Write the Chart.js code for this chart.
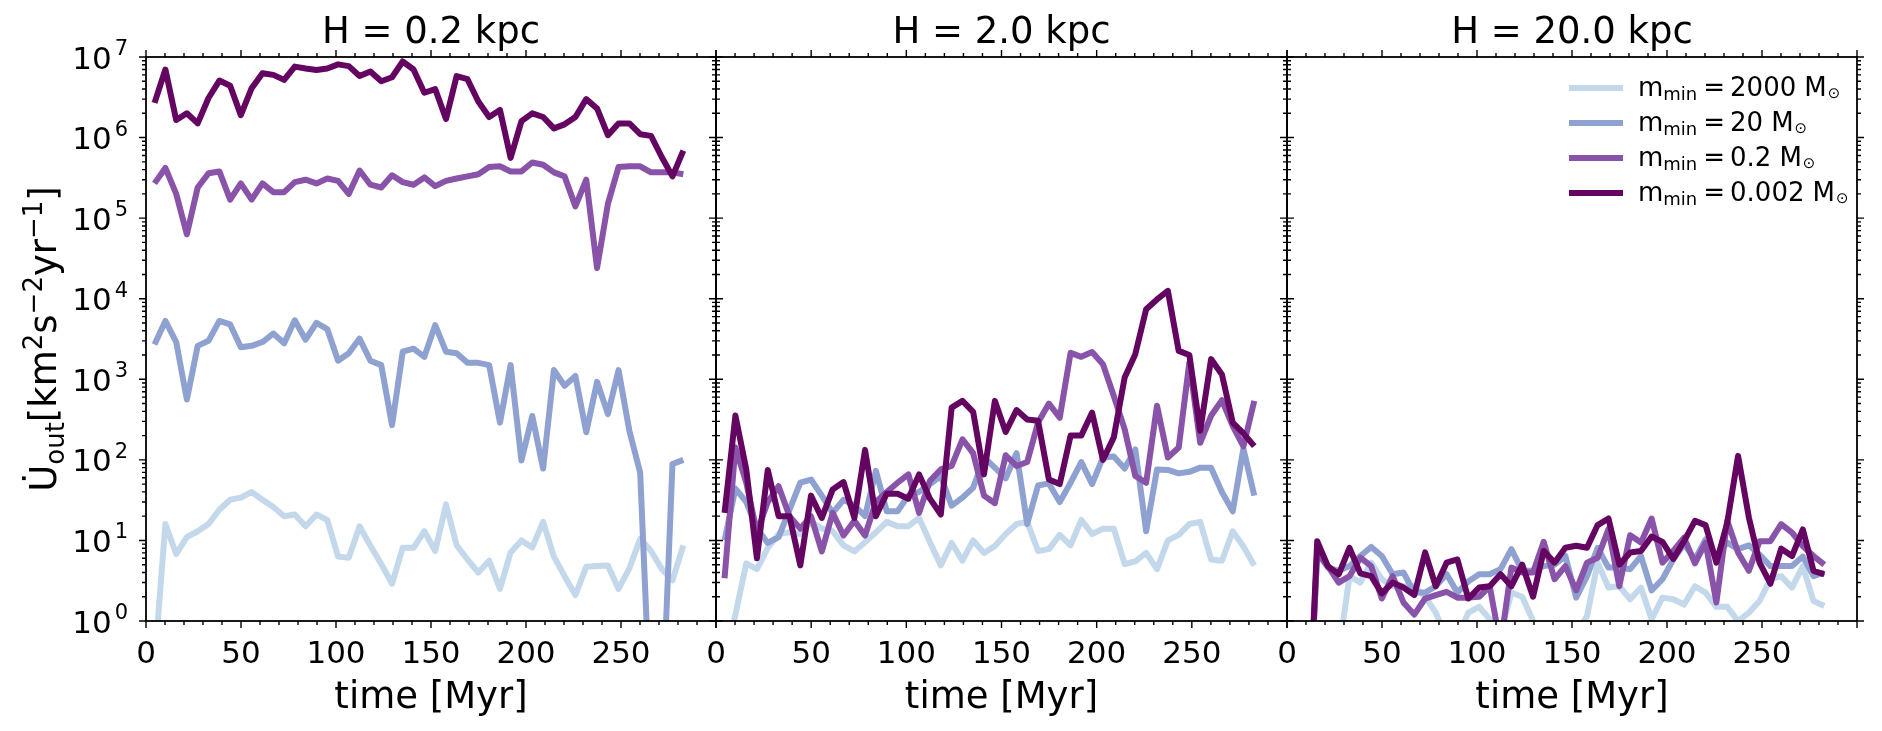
<!DOCTYPE html>
<html>
<head>
<meta charset="utf-8">
<script src="https://cdn.jsdelivr.net/npm/chart.js@4.4.1/dist/chart.umd.min.js"></script>
<style>
  html, body { margin: 0; padding: 0; background: #fff; }
  #wrap { position: relative; width: 1882px; height: 731px; }
  #wrap canvas { position: absolute; left: 0; top: 0; }
</style>
</head>
<body>
<div id="wrap">
  <canvas id="p0" width="1882" height="731"></canvas>
  <canvas id="p1" width="1882" height="731"></canvas>
  <canvas id="p2" width="1882" height="731"></canvas>
</div>
<script>
// snapshot times [Myr]
const times = [4.5, 10.2, 15.9, 21.5, 27.2, 32.9, 38.6, 44.3, 49.9, 55.6,
  61.3, 67.0, 72.7, 78.3, 84.0, 89.7, 95.4, 101.1, 106.7, 112.4,
  118.1, 123.8, 129.5, 135.1, 140.8, 146.5, 152.2, 157.9, 163.5, 169.2,
  174.9, 180.6, 186.3, 191.9, 197.6, 203.3, 209.0, 214.7, 220.3, 226.0,
  231.7, 237.4, 243.1, 248.7, 254.4, 260.1, 265.8, 271.5, 277.1, 282.8];

// H = 0.2 kpc
const h02_m2000 = [0.3, 16, 6.8, 11, 13, 16, 24, 32, 34, 40, 32, 26, 20, 21, 15, 21, 18, 6.3, 6.1, 15,
  8.6, 5.1, 2.9, 8.1, 8.1, 13, 7.4, 28, 8.7, 5.8, 4.0, 5.6, 2.5, 7.1, 10, 8.2, 17, 6.3, 3.6, 2.1,
  4.7, 4.8, 4.9, 2.5, 4.5, 10.5, 7.4, 4.4, 3.2, 8.7];
const h02_m20 = [2.7e3, 5.3e3, 2.9e3, 5.6e2, 2.6e3, 3.0e3, 5.3e3, 4.8e3, 2.5e3, 2.6e3, 2.9e3, 3.7e3, 2.8e3, 5.4e3, 3.1e3, 5.0e3, 4.2e3, 1.7e3, 2.1e3, 3.2e3,
  1.7e3, 1.5e3, 2.7e2, 2.2e3, 2.4e3, 1.9e3, 4.7e3, 2.2e3, 2.1e3, 1.6e3, 1.6e3, 1.5e3, 2.9e2, 1.5e3, 98, 3.5e2, 78, 1.3e3, 8.3e2, 1.1e3,
  2.2e2, 9.3e2, 3.7e2, 1.3e3, 2.3e2, 69, 0.05, 0.05, 89, 100];
const h02_m02 = [2.7e5, 4.2e5, 2.0e5, 6.3e4, 2.4e5, 3.6e5, 3.8e5, 1.7e5, 2.7e5, 1.7e5, 2.7e5, 2.1e5, 2.1e5, 2.8e5, 3.0e5, 2.7e5, 3.1e5, 2.9e5, 2.0e5, 3.9e5,
  2.6e5, 2.4e5, 3.4e5, 2.8e5, 2.6e5, 3.2e5, 2.5e5, 2.9e5, 3.1e5, 3.3e5, 3.5e5, 4.3e5, 4.4e5, 3.8e5, 3.8e5, 4.9e5, 4.6e5, 3.7e5, 3.3e5, 1.4e5,
  3.0e5, 2.4e4, 1.5e5, 4.3e5, 4.4e5, 4.4e5, 3.7e5, 3.7e5, 3.7e5, 3.5e5];
const h02_m0002 = [2.7e6, 7.0e6, 1.65e6, 2.0e6, 1.5e6, 3.1e6, 5.1e6, 4.4e6, 1.9e6, 4.1e6, 6.3e6, 6.0e6, 5.2e6, 7.6e6, 7.2e6, 6.9e6, 7.2e6, 8.1e6, 7.7e6, 5.8e6,
  6.6e6, 5.0e6, 5.6e6, 8.8e6, 7.0e6, 3.6e6, 4.0e6, 1.7e6, 5.8e6, 5.3e6, 2.8e6, 1.8e6, 2.2e6, 5.6e5, 1.6e6, 2.0e6, 1.8e6, 1.3e6, 1.46e6, 1.8e6,
  3.0e6, 2.3e6, 1.07e6, 1.5e6, 1.5e6, 1.1e6, 1.05e6, 5.7e5, 3.3e5, 6.9e5];

// H = 2.0 kpc
const h2_m2000 = [0.3, 1.2, 5.2, 4.4, 8.1, 12, 12.6, 12, 17, 14, 13, 8.7, 7.3, 9.5, 12.6, 17, 15, 15, 19, 9.5,
  4.9, 9.3, 5.6, 10, 7.0, 8.5, 12, 16, 17, 7.4, 7.8, 11.7, 8.7, 18, 12, 14, 14, 5.1, 5.5, 7.0,
  4.4, 10, 11.7, 16, 17, 5.8, 5.6, 13, 8.4, 4.9];
const h2_m20 = [10, 44, 30, 14, 9.3, 11, 24, 52, 57, 36, 22, 32, 27, 20, 73, 23, 23, 36, 40, 50,
  63, 27, 34, 45, 107, 80, 59, 121, 16, 48, 51, 30, 52, 94, 50, 107, 110, 78, 135, 13,
  76, 75, 68, 71, 80, 80, 40, 23, 138, 36];
const h2_m02 = [3.4, 142, 52, 12.6, 30, 47, 20, 14, 20, 7.3, 22, 11.5, 17.6, 11.5, 30, 40, 52, 66, 22, 55,
  76, 84, 180, 121, 36, 29, 114, 84, 94, 290, 500, 333, 2130, 1900, 2180, 1540, 620, 240, 63, 52,
  470, 107, 142, 1620, 163, 352, 552, 262, 147, 540];
const h2_m0002 = [22, 355, 76, 6.0, 75, 20, 20, 4.9, 36, 19, 43, 53, 19, 133, 20, 38, 38, 33, 66, 33,
  21, 445, 540, 395, 66, 540, 222, 415, 317, 305, 57, 50, 200, 200, 386, 100, 190, 1050, 2050, 7400,
  9800, 12500, 2250, 2000, 230, 1780, 1150, 290, 213, 148];

// H = 20.0 kpc
const h20_m2000 = [0.01, 0.01, 0.01, 0.2, 0.4, 3.6, 3.0, 5.3, 3.3, 2.7, 2.7, 2.7, 2.0, 1.27, 0.6, 0.6, 1.27, 1.5, 1.05, 0.7,
  2.25, 2.0, 1.0, 0.6, 0.5, 0.5, 0.7, 1.15, 5.3, 2.6, 2.7, 1.86, 2.6, 1.05, 1.95, 1.86, 1.6, 2.7, 2.25, 1.5,
  1.5, 1.0, 1.27, 1.77, 3.3, 3.6, 2.6, 4.8, 1.77, 1.54];
const h20_m20 = [0.01, 0.01, 7.1, 4.6, 4.2, 4.8, 6.4, 8.3, 6.4, 3.8, 4.0, 2.25, 2.25, 2.7, 3.8, 2.25, 3.1, 3.8, 3.8, 4.4,
  7.8, 4.2, 4.2, 4.8, 5.0, 6.4, 1.95, 3.6, 8.1, 4.6, 4.6, 4.4, 6.4, 2.4, 3.3, 5.8, 9.0, 5.8, 10.3, 6.4,
  9.4, 7.8, 8.7, 6.7, 4.8, 4.8, 4.8, 6.3, 3.6, 4.0];
const h20_m02 = [0.01, 0.01, 7.1, 4.8, 3.0, 3.6, 6.1, 4.8, 1.9, 3.6, 1.7, 1.2, 1.9, 2.1, 2.3, 1.95, 1.95, 2.0, 2.7, 0.5,
  4.6, 4.0, 4.0, 9.6, 3.3, 4.8, 2.4, 5.3, 6.1, 13.8, 2.7, 11.6, 9.4, 18.7, 5.3, 7.4, 10.8, 5.2, 9.4, 1.7,
  17.5, 7.1, 4.2, 9.8, 9.8, 15.9, 12.5, 8.5, 6.4, 5.0];
const h20_m0002 = [0.01, 0.01, 9.8, 4.8, 3.8, 8.1, 3.9, 3.6, 2.2, 3.0, 2.6, 2.1, 7.1, 2.7, 5.3, 5.8, 1.9, 2.6, 2.7, 3.8,
  2.7, 5.0, 2.0, 7.4, 5.3, 8.1, 8.6, 8.1, 15.5, 18.7, 5.0, 7.1, 7.4, 11.2, 9.6, 5.9, 9.8, 17.5, 15.5, 5.3,
  16.6, 112, 19.2, 5.3, 2.9, 7.9, 6.4, 13.7, 4.2, 3.8];

const massLabels = ["2000", "20", "0.2", "0.002"];
const panelTitles = ["H = 0.2 kpc", "H = 2.0 kpc", "H = 20.0 kpc"];
const xTickValues = [0, 50, 100, 150, 200, 250];
const yTickExponents = [0, 1, 2, 3, 4, 5, 6, 7];

const panelData = [
  [h02_m2000, h02_m20, h02_m02, h02_m0002],
  [h2_m2000, h2_m20, h2_m02, h2_m0002],
  [h20_m2000, h20_m20, h20_m02, h20_m0002]
];

// layout / style
const W = 1882, H = 731;
const PLOT_TOP = 57, PLOT_BOTTOM = 621;
const panelEdges = [[146, 716], [716, 1287], [1287, 1857]];
const colors = ["#c4d8eb", "#8ea1d0", "#8953a9", "#640562"];
const FONT = '"DejaVu Sans", sans-serif';

// draw a run of text pieces (for sub/superscripts); returns total width
function drawPieces(ctx, pieces, x, y, measureOnly) {
  let cx = x;
  for (const p of pieces) {
    ctx.font = p.size + "px " + FONT;
    cx += p.gap || 0;
    if (!measureOnly) ctx.fillText(p.t, cx, y + (p.dy || 0));
    cx += ctx.measureText(p.t).width;
  }
  return cx - x;
}

const decor = {
  id: "decor",
  afterDraw(chart) {
    const idx = chart.options.plugins.decor.panel;
    const ctx = chart.ctx;
    const a = chart.chartArea;
    const xs = chart.scales.x, ys = chart.scales.y;
    ctx.save();
    ctx.strokeStyle = "#000";
    ctx.fillStyle = "#000";

    // frame
    ctx.lineWidth = 1.8;
    ctx.strokeRect(a.left, a.top, a.right - a.left, a.bottom - a.top);

    // ticks, all pointing out of the axes
    ctx.lineWidth = 1.4;
    ctx.beginPath();
    for (let v = 0; v <= 300; v += 10) {
      const px = xs.getPixelForValue(v);
      const len = v % 50 === 0 ? 7 : 4;
      ctx.moveTo(px, a.bottom); ctx.lineTo(px, a.bottom + len);
      ctx.moveTo(px, a.top); ctx.lineTo(px, a.top - len);
    }
    for (let d = 0; d <= 7; d++) {
      for (let k = 1; k <= 9; k++) {
        if (d === 7 && k > 1) break;
        const py = ys.getPixelForValue(k * Math.pow(10, d));
        const len = k === 1 ? 7 : 4;
        ctx.moveTo(a.left, py); ctx.lineTo(a.left - len, py);
        ctx.moveTo(a.right, py); ctx.lineTo(a.right + len, py);
      }
    }
    ctx.stroke();

    // x tick labels
    ctx.font = "31px " + FONT;
    ctx.textAlign = "center";
    ctx.textBaseline = "alphabetic";
    xTickValues.forEach(v => ctx.fillText(String(v), xs.getPixelForValue(v), 663));

    const cx = (a.left + a.right) / 2;
    ctx.font = "37px " + FONT;
    ctx.fillText(panelTitles[idx], cx, 43);
    ctx.fillText("time [Myr]", cx, 708);

    ctx.textAlign = "left";
    if (idx === 0) {
      // y tick labels 10^n
      yTickExponents.forEach(e => {
        const py = ys.getPixelForValue(Math.pow(10, e));
        ctx.font = "21px " + FONT;
        const sw = ctx.measureText(String(e)).width;
        ctx.fillText(String(e), 128 - sw, py - 2);
        ctx.font = "31px " + FONT;
        const bw = ctx.measureText("10").width;
        ctx.fillText("10", 128 - sw - 3 - bw, py + 11.5);
      });
      // y axis label
      const pieces = [
        { t: "U\u0307", size: 37 },
        { t: "out", size: 26, dy: 8 },
        { t: "[km", size: 37 },
        { t: "2", size: 26, dy: -14 },
        { t: "s", size: 37 },
        { t: "\u22122", size: 26, dy: -14 },
        { t: "yr", size: 37 },
        { t: "\u22121", size: 26, dy: -14 },
        { t: "]", size: 37 }
      ];
      ctx.save();
      ctx.translate(56, (a.top + a.bottom) / 2);
      ctx.rotate(-Math.PI / 2);
      const tw = drawPieces(ctx, pieces, 0, 0, true);
      drawPieces(ctx, pieces, -tw / 2, 0, false);
      ctx.restore();
    }

    if (idx === 2) {
      // legend
      chart.data.datasets.forEach((ds, i) => {
        const y = 88 + 35 * i;
        ctx.strokeStyle = ds.borderColor;
        ctx.lineWidth = 6;
        ctx.beginPath();
        ctx.moveTo(1569, y); ctx.lineTo(1623, y);
        ctx.stroke();
        ctx.fillStyle = "#000";
        drawPieces(ctx, [
          { t: "m", size: 26 },
          { t: "min", size: 18, dy: 4 },
          { t: "=", size: 26, gap: 6 },
          { t: massLabels[i], size: 26, gap: 5 },
          { t: "M", size: 26, gap: 8 },
          { t: "\u2299", size: 15, dy: 2, gap: 1 }
        ], 1638, y + 7.5, false);
      });
    }
    ctx.restore();
  }
};

panelData.forEach((series, p) => {
  const [left, right] = panelEdges[p];
  new Chart(document.getElementById("p" + p), {
    type: "line",
    data: {
      datasets: series.map((vals, i) => ({
        label: "m_min = " + massLabels[i] + " M_sun",
        data: times.map((t, j) => ({ x: t, y: vals[j] })),
        borderColor: colors[i],
        borderWidth: 6,
        borderJoinStyle: "round",
        pointRadius: 0,
        tension: 0,
        fill: false,
        clip: 0,
        order: 3 - i
      }))
    },
    options: {
      responsive: false,
      animation: false,
      devicePixelRatio: 1,
      events: [],
      layout: { padding: { left: left, right: W - right, top: PLOT_TOP, bottom: H - PLOT_BOTTOM } },
      scales: {
        x: { type: "linear", min: 0, max: 300, display: false },
        y: { type: "logarithmic", min: 1, max: 1e7, display: false }
      },
      plugins: {
        legend: { display: false },
        tooltip: { enabled: false },
        decor: { panel: p }
      }
    },
    plugins: [decor]
  });
});
</script>
</body>
</html>
